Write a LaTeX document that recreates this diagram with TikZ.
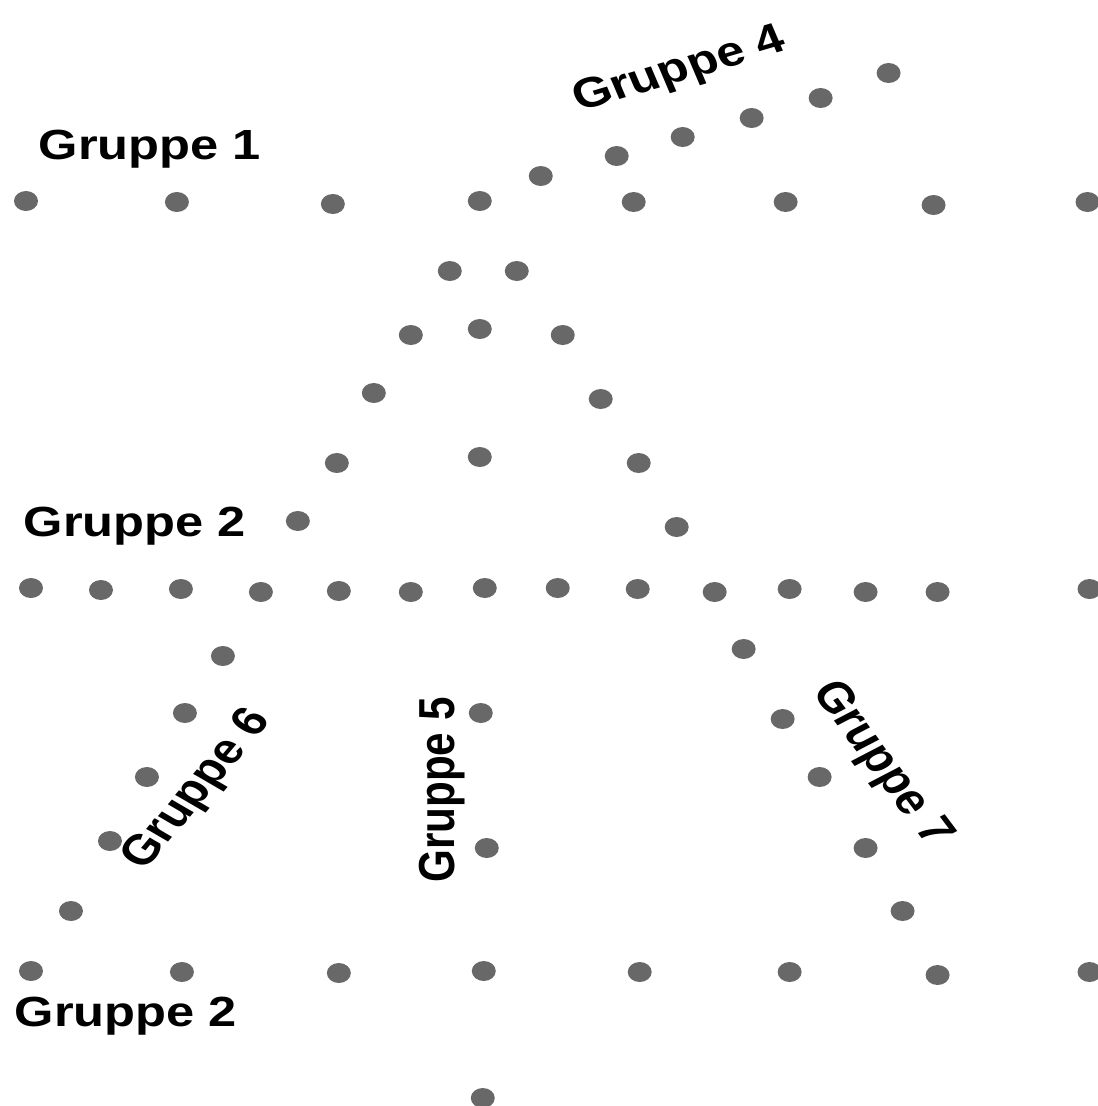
\documentclass[tikz,border=0pt]{standalone}
\usepackage{fontspec}
\setmainfont{Liberation Sans}
\usetikzlibrary{positioning}
\definecolor{dotgray}{RGB}{104,104,104}

\begin{document}
\begin{tikzpicture}[x=0.016667cm, y=-0.02cm, xscale=1.2,
    every node/.style={transform shape},
    dot/.style={circle, fill=dotgray, inner sep=0pt, minimum size=0.4cm},
    grp/.style={font=\bfseries\fontsize{24}{28}\selectfont, inner sep=0pt}]
  \useasboundingbox (0,0) rectangle (1098,1106);

  % horizontal rows
  \foreach \x/\y [count=\i] in {26/201, 177/202, 333/204, 480/201, 634/202, 786/202, 934/205, 1088/202}
    \node[dot] (top\i) at (\x,\y) {};
  \foreach \x/\y [count=\i] in {31/588, 101/590, 181/589, 261/592, 339/591, 411/592, 485/588,
      558/588, 638/589, 715/592, 790/589, 866/592, 938/592, 1090/589}
    \node[dot] (mid\i) at (\x,\y) {};
  \foreach \x/\y [count=\i] in {31/971, 182/972, 339/973, 484/971, 640/972, 790/972, 938/975, 1090/972}
    \node[dot] (bot\i) at (\x,\y) {};

  % diagonal up to the right
  \foreach \x/\y [count=\i] in {541/176, 617/156, 683/137, 752/118, 821/98, 889/73}
    \node[dot] (diag\i) at (\x,\y) {};

  % the triangle between the rows
  \foreach \x/\y [count=\i] in {450/271, 517/271, 411/335, 480/329, 563/335, 374/393, 601/399,
      337/463, 480/457, 639/463, 298/521, 677/527}
    \node[dot] (tri\i) at (\x,\y) {};

  % below the middle row
  \foreach \x/\y [count=\i] in {223/656, 185/713, 147/777, 110/841, 71/911}
    \node[dot] (left\i) at (\x,\y) {};
  \foreach \x/\y [count=\i] in {481/713, 487/848, 483/1098}
    \node[dot] (vert\i) at (\x,\y) {};
  \foreach \x/\y [count=\i] in {744/649, 783/719, 820/777, 866/848, 903/911}
    \node[dot] (right\i) at (\x,\y) {};

  % labels
  \node[grp] (g1) at (150,149) {Gruppe 1};
  \node[grp, rotate=19.5] (g4) at (680,71) {Gruppe 4};
  \node[grp] (g2a) at (135,526) {Gruppe 2};
  \node[grp, rotate=55] (g6) at (198,790) {Gruppe 6};
  \node[grp, rotate=90] (g5) at (442,790) {Gruppe 5};
  \node[grp, rotate=-58] (g7) at (881,764) {Gruppe 7};
  \node[grp] (g2b) at (126,1016) {Gruppe 2};
\end{tikzpicture}
\end{document}
